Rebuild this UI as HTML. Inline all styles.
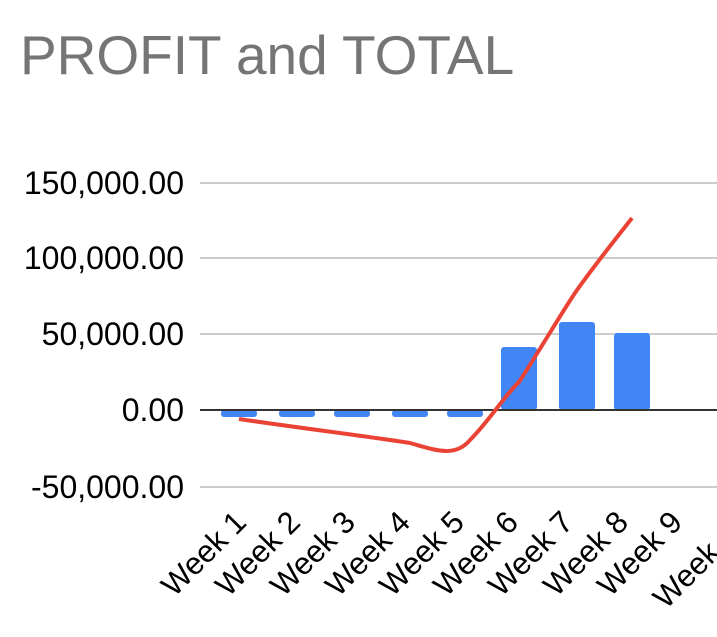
<!DOCTYPE html>
<html><head><style>body{margin:0;background:#fff}</style></head><body>
<svg width="717" height="632" xmlns="http://www.w3.org/2000/svg" font-family="Liberation Sans, Arial, sans-serif">
<text x="20" y="74" font-size="55" fill="#757575">PROFIT and TOTAL</text>
<g stroke="#cccccc" stroke-width="2">
<line x1="200" y1="183" x2="717" y2="183"/>
<line x1="200" y1="258" x2="717" y2="258"/>
<line x1="200" y1="334" x2="717" y2="334"/>
<line x1="200" y1="487" x2="717" y2="487"/>
</g>
<g font-size="32" fill="#000" text-anchor="end">
<text x="184" y="194">150,000.00</text>
<text x="184" y="269">100,000.00</text>
<text x="184" y="345">50,000.00</text>
<text x="184" y="421">0.00</text>
<text x="184" y="498">-50,000.00</text>
</g>
<g fill="#4285f4">
<rect x="221" y="410" width="36" height="7" rx="3"/>
<rect x="279" y="410" width="36" height="7" rx="3"/>
<rect x="334" y="410" width="36" height="7" rx="3"/>
<rect x="392" y="410" width="36" height="7" rx="3"/>
<rect x="447" y="410" width="36" height="7" rx="3"/>
<rect x="501" y="347" width="36" height="63" rx="3"/>
<rect x="559" y="322" width="36" height="88" rx="3"/>
<rect x="614" y="333" width="36" height="77" rx="3"/>
</g>
<line x1="200" y1="410" x2="717" y2="410" stroke="#333" stroke-width="2"/>
<path d="M239,419 C300,428 380,438 410,443 C435,450 455,458 470,440 C490,420 505,395 519,382 C540,350 560,315 577,290 C600,258 615,240 632,218" fill="none" stroke="#ea4335" stroke-width="4"/>
<g font-size="31" fill="#000" text-anchor="end">
<text transform="translate(248,524) rotate(-45)">Week 1</text>
<text transform="translate(302,524) rotate(-45)">Week 2</text>
<text transform="translate(357,524) rotate(-45)">Week 3</text>
<text transform="translate(412,524) rotate(-45)">Week 4</text>
<text transform="translate(466,524) rotate(-45)">Week 5</text>
<text transform="translate(520,524) rotate(-45)">Week 6</text>
<text transform="translate(575,524) rotate(-45)">Week 7</text>
<text transform="translate(630,524) rotate(-45)">Week 8</text>
<text transform="translate(684,524) rotate(-45)">Week 9</text>
<text transform="translate(752,524) rotate(-45)">Week 10</text>
</g>
</svg>
</body></html>
